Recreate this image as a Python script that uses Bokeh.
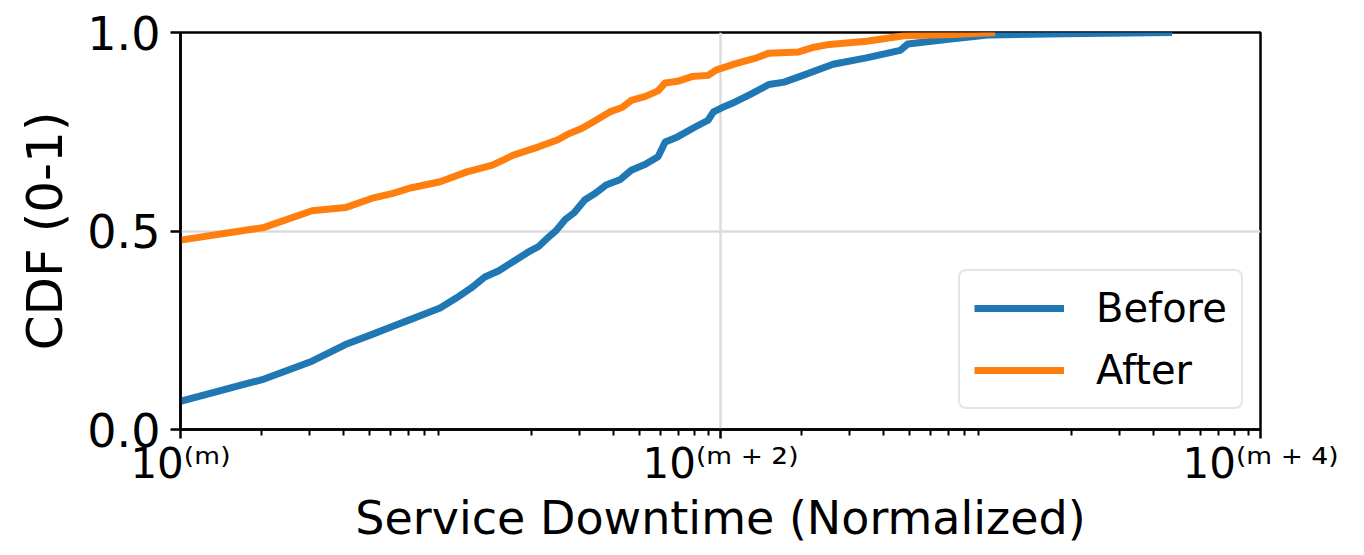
from bokeh.plotting import figure
from bokeh.models import FixedTicker, PrintfTickFormatter, Legend, LegendItem, Range1d
from bokeh.embed import file_html
from bokeh.resources import INLINE

# ---- data ----
before_x = [1.0, 2.04, 3.07, 4.08, 5.10, 6.12, 7.17, 8.15, 9.15, 10.5, 11.9, 13.4, 15.1, 17.1,
            19.3, 21.2, 23.2, 24.6, 26.6, 28.7, 31.4, 34.4, 37.7, 42.6, 46.7, 52.7, 58.7, 62.4,
            69.3, 79.6, 89.9, 94.2, 101.5, 110, 129, 151, 172, 202, 261, 347, 463, 494, 725,
            998, 1888, 4700]
before_y = [0.071, 0.127, 0.172, 0.214, 0.239, 0.260, 0.278, 0.293, 0.306, 0.331, 0.356, 0.384,
            0.400, 0.423, 0.446, 0.461, 0.486, 0.501, 0.529, 0.546, 0.578, 0.595, 0.616, 0.630,
            0.653, 0.668, 0.687, 0.724, 0.737, 0.760, 0.779, 0.800, 0.811, 0.821, 0.844, 0.869,
            0.875, 0.892, 0.920, 0.936, 0.955, 0.971, 0.984, 0.994, 0.997, 1.0]
after_x = [1.0, 2.04, 3.07, 4.08, 5.1, 6.12, 7.17, 9.15, 11.5, 14.3, 17.1, 21.2, 25.0, 27.4,
           30.6, 33.0, 38.9, 43.2, 46.7, 52.7, 58.7, 62.4, 69.3, 78.4, 89.9, 96.8, 113, 133,
           151, 195, 222, 253, 347, 478, 725, 1040]
after_y = [0.477, 0.509, 0.551, 0.559, 0.582, 0.595, 0.609, 0.624, 0.649, 0.666, 0.691, 0.712,
           0.730, 0.745, 0.758, 0.771, 0.800, 0.811, 0.829, 0.839, 0.853, 0.873, 0.877, 0.889,
           0.892, 0.906, 0.921, 0.934, 0.948, 0.951, 0.963, 0.970, 0.978, 0.992, 0.995, 1.0]

series_labels = ["Before", "After"]
x_major_ticks = [1, 100, 10000]
x_tick_labels = ["10\u207d\u1d50\u207e",
                 "10\u207d\u1d50\u2009\u207a\u2009\u00b2\u207e",
                 "10\u207d\u1d50\u2009\u207a\u2009\u2074\u207e"]
y_ticks = [0.0, 0.5, 1.0]
x_title = "Service Downtime (Normalized)"
y_title = "CDF (0-1)"

BLUE = "#1f77b4"
ORANGE = "#ff7f0e"
FONT = "DejaVu Sans"

p = figure(width=1348, height=547, x_axis_type="log",
           x_range=Range1d(1, 10000), y_range=Range1d(0, 1),
           output_backend="svg", toolbar_location=None,
           min_border_left=180, min_border_right=88,
           min_border_top=32, min_border_bottom=118)

p.background_fill_color = "white"
p.border_fill_color = "white"
p.outline_line_color = "black"
p.outline_line_width = 2.5

r1 = p.line(before_x, before_y, line_color=BLUE, line_width=7, line_join="round")
r2 = p.line(after_x, after_y, line_color=ORANGE, line_width=7, line_join="round")

# x axis: majors every two decades, minors at 2..9 of each decade
minor = [k * 10 ** d for d in range(4) for k in range(2, 10)]
xt = FixedTicker(ticks=x_major_ticks, minor_ticks=minor)
p.xaxis.ticker = xt
p.xgrid.ticker = xt
p.xaxis.major_label_overrides = dict(zip(x_major_ticks, x_tick_labels))
p.xaxis.major_label_text_font_size = "42px"
p.xaxis.major_label_text_font = FONT
p.xaxis.major_label_standoff = 0

yt = FixedTicker(ticks=y_ticks)
p.yaxis.ticker = yt
p.ygrid.ticker = yt
p.yaxis.formatter = PrintfTickFormatter(format="%.1f")
p.yaxis.major_label_text_font_size = "46px"
p.yaxis.major_label_text_font = FONT
p.yaxis.major_label_standoff = 10

for ax in (p.xaxis[0], p.yaxis[0]):
    ax.axis_line_color = "black"
    ax.axis_line_width = 2.5
    ax.major_tick_line_color = "black"
    ax.major_tick_line_width = 2.5
    ax.major_tick_out = 10
    ax.major_tick_in = 0
    ax.minor_tick_line_width = 2
    ax.minor_tick_out = 6
    ax.minor_tick_in = 0
    ax.axis_label_text_font = FONT
    ax.axis_label_text_font_style = "normal"
    ax.axis_label_text_color = "black"
    ax.major_label_text_color = "black"
p.xaxis.major_tick_out = 9
p.xaxis.minor_tick_line_color = "black"
p.yaxis.minor_tick_line_color = None

p.xaxis.axis_label = x_title
p.yaxis.axis_label = y_title
p.xaxis.axis_label_text_font_size = "46px"
p.yaxis.axis_label_text_font_size = "50px"
p.xaxis.axis_label_standoff = 0
p.yaxis.axis_label_standoff = 10

for g in (p.xgrid[0], p.ygrid[0]):
    g.grid_line_color = "#dcdcdc"
    g.grid_line_width = 2.5

legend = Legend(items=[LegendItem(label=series_labels[0], renderers=[r1]),
                       LegendItem(label=series_labels[1], renderers=[r2])],
                location=(778, 20))
legend.label_text_font = FONT
legend.label_text_font_size = "40px"
legend.label_text_color = "black"
legend.glyph_width = 90
legend.glyph_height = 44
legend.label_height = 44
legend.label_standoff = 32
legend.padding = 14
legend.spacing = 16
legend.margin = 0
legend.border_line_color = "#cccccc"
legend.border_line_width = 2.5
legend.background_fill_color = "white"
legend.background_fill_alpha = 1.0
try:
    legend.border_radius = 8
except Exception:
    pass
p.add_layout(legend)

open("out.html", "w").write(file_html(p, INLINE))
